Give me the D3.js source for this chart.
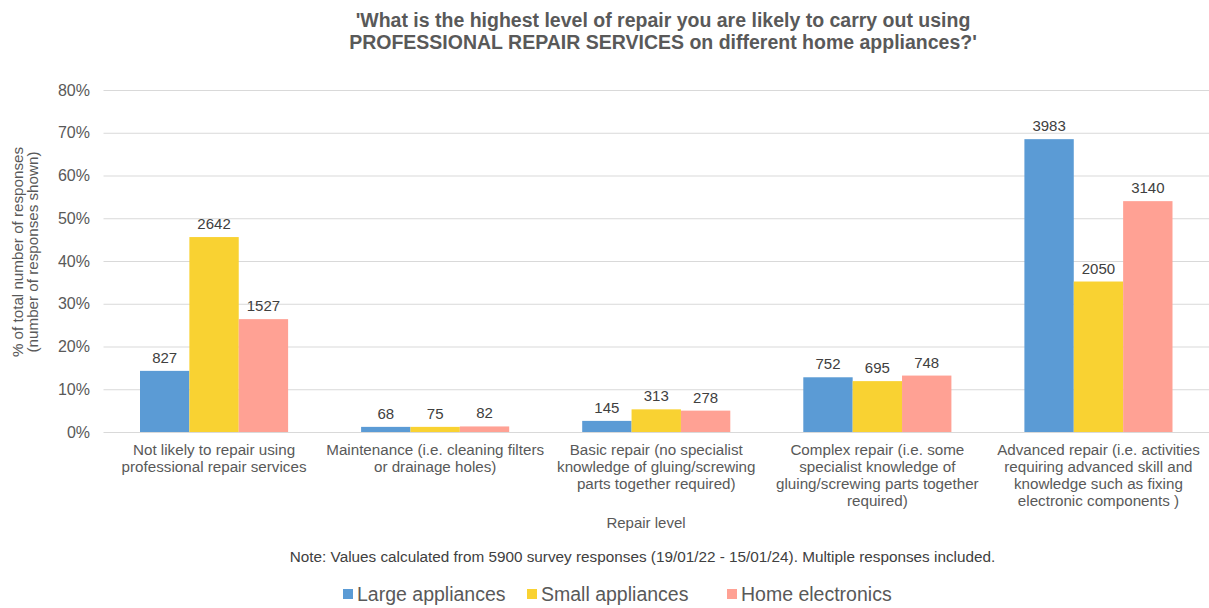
<!DOCTYPE html>
<html>
<head>
<meta charset="utf-8">
<script src="https://cdn.jsdelivr.net/npm/d3@7"></script>
<style>
  body { margin: 0; background: #fff; }
  text { font-family: "Liberation Sans", Arial, sans-serif; }
</style>
</head>
<body>
<div id="chart"></div>
<script>
// categories (line breaks as in the original axis)
var categories = [
    "Not likely to repair using\nprofessional repair services",
    "Maintenance (i.e. cleaning filters\nor drainage holes)",
    "Basic repair (no specialist\nknowledge of gluing/screwing\nparts together required)",
    "Complex repair (i.e. some\nspecialist knowledge of\ngluing/screwing parts together\nrequired)",
    "Advanced repair (i.e. activities\nrequiring advanced skill and\nknowledge such as fixing\nelectronic components )"
];
var seriesNames = ["Large appliances", "Small appliances", "Home electronics"];

// bar heights (% of responses)
var largePct = [14.3, 1.2, 2.6, 12.8, 68.5];
var smallPct = [45.6, 1.2, 5.3, 11.9, 35.2];
var homePct  = [26.4, 1.3, 5.0, 13.2, 54.0];

// counts printed above the bars
var largeCount = [827, 68, 145, 752, 3983];
var smallCount = [2642, 75, 313, 695, 2050];
var homeCount  = [1527, 82, 278, 748, 3140];

var yTicks = [0, 10, 20, 30, 40, 50, 60, 70, 80];
var colors = ['#5B9BD5', '#F9D232', '#FFA194'];

function drawChart()
{
    var svgWidth = 1209, svgHeight = 608;
    var margin = { top: 90, right: 0, bottom: 176, left: 103.5 };
    var svg = d3.select("#chart").append("svg").attr("width", svgWidth).attr("height", svgHeight);

    var pcts = [largePct, smallPct, homePct];
    var counts = [largeCount, smallCount, homeCount];

    var x0 = d3.scaleBand().domain(categories).range([margin.left, svgWidth - margin.right]);
    var x1 = d3.scaleBand().domain(seriesNames).range([36.5, x0.bandwidth() - 36.5]);
    var y = d3.scaleLinear().domain([0, 80]).range([svgHeight - margin.bottom, margin.top]);

    // title
    var title = svg.append("text").attr("x", 663).attr("y", 27)
        .attr("text-anchor", "middle").attr("fill", "#595959")
        .style("font-size", "19.5px").style("font-weight", "bold");
    title.append("tspan").attr("x", 663).attr("dy", 0).text("'What is the highest level of repair you are likely to carry out using");
    title.append("tspan").attr("x", 663).attr("dy", 22).text("PROFESSIONAL REPAIR SERVICES on different home appliances?'");

    // gridlines
    svg.append("g").selectAll("line").data(yTicks).enter().append("line")
        .attr("x1", margin.left).attr("x2", svgWidth - margin.right)
        .attr("y1", function (d) { return y(d) + 0.5; }).attr("y2", function (d) { return y(d) + 0.5; })
        .attr("stroke", "#d9d9d9").attr("stroke-width", 1);

    // y axis labels
    var yAxis = d3.axisLeft(y).tickValues(yTicks).tickSize(0).tickPadding(0)
        .tickFormat(function (d) { return d + "%"; });
    var ya = svg.append("g").attr("transform", "translate(" + 90 + ",0)").call(yAxis);
    ya.select(".domain").remove();
    ya.selectAll("text").attr("fill", "#595959").style("font-size", "16px")
        .style("font-family", '"Liberation Sans", Arial, sans-serif');

    // y axis title
    var yt = svg.append("text").attr("transform", "translate(23,252) rotate(-90)")
        .attr("text-anchor", "middle").attr("fill", "#595959").style("font-size", "15.2px");
    yt.append("tspan").attr("x", 0).attr("dy", 0).text("% of total number of responses");
    yt.append("tspan").attr("x", 0).attr("dy", 15).text("(number of responses shown)");

    // bars
    for (var s = 0; s < seriesNames.length; s++) {
        var g = svg.append("g");
        g.selectAll("rect").data(categories).enter().append("rect")
            .attr("x", function (d) { return x0(d) + x1(seriesNames[s]); })
            .attr("width", x1.bandwidth())
            .attr("y", function (d, i) { return y(pcts[s][i]); })
            .attr("height", function (d, i) { return y(0) - y(pcts[s][i]); })
            .attr("fill", colors[s]);
        g.selectAll("text").data(categories).enter().append("text")
            .attr("x", function (d) { return x0(d) + x1(seriesNames[s]) + x1.bandwidth() / 2; })
            .attr("y", function (d, i) { return y(pcts[s][i]) - 8; })
            .attr("text-anchor", "middle").attr("fill", "#404040").style("font-size", "15px")
            .text(function (d, i) { return counts[s][i]; });
    }

    // category labels
    var xl = svg.append("g").selectAll("text").data(categories).enter().append("text")
        .attr("x", function (d) { return x0(d) + x0.bandwidth() / 2; })
        .attr("y", 455)
        .attr("text-anchor", "middle").attr("fill", "#595959").style("font-size", "15.2px");
    xl.each(function (d) {
        var t = d3.select(this);
        var cx = x0(d) + x0.bandwidth() / 2;
        d.split("\n").forEach(function (line, i) {
            t.append("tspan").attr("x", cx).attr("dy", i == 0 ? 0 : 17).text(line);
        });
    });

    // x axis title
    svg.append("text").attr("x", 646).attr("y", 528).attr("text-anchor", "middle")
        .attr("fill", "#595959").style("font-size", "15px").text("Repair level");

    // note
    svg.append("text").attr("x", 642.5).attr("y", 562).attr("text-anchor", "middle")
        .attr("fill", "#404040").style("font-size", "15.3px")
        .text("Note: Values calculated from 5900 survey responses (19/01/22 - 15/01/24). Multiple responses included.");

    // legend
    var legendX = [343, 527, 727];
    var lg = svg.append("g").selectAll("g").data(seriesNames).enter().append("g")
        .attr("transform", function (d, i) { return "translate(" + legendX[i] + ",589)"; });
    lg.append("rect").attr("width", 10).attr("height", 10).attr("fill", function (d, i) { return colors[i]; });
    lg.append("text").attr("x", 14).attr("y", 12).attr("fill", "#595959").style("font-size", "19.5px")
        .text(function (d) { return d; });
}
drawChart();
</script>
</body>
</html>
